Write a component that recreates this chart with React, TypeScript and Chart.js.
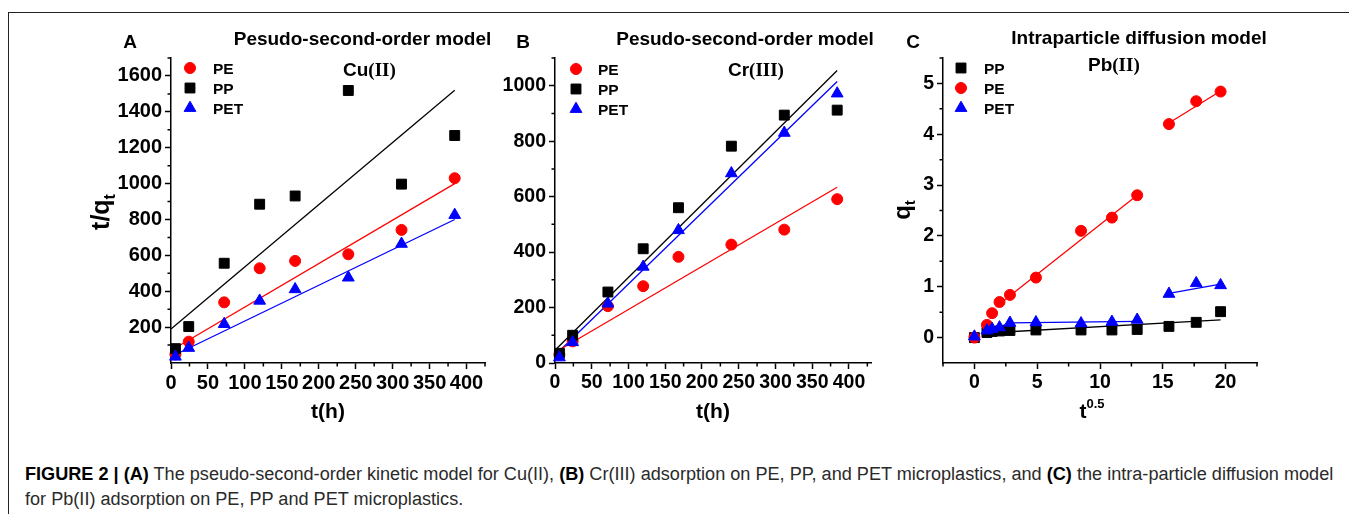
import React, { useEffect, useLayoutEffect, useRef } from 'react';
import { Chart, registerables } from 'chart.js';

Chart.register(...registerables);

// ---------------- Panel A : Cu(II), pseudo-second-order ----------------
const timeA = [6, 24, 72, 120, 168, 240, 312, 384];
const peA = [48, 119, 338, 528, 569, 606, 742, 1030];
const ppA = [80, 203, 556, 885, 931, 1519, 997, 1268];
const petA = [35, 84, 217, 347, 411, 476, 664, 825];
const fitTimeA = [0, 384];
const fitPeA = [70, 1000];
const fitPpA = [190, 1520];
const fitPetA = [35, 800];
const xTicksA = [0, 50, 100, 150, 200, 250, 300, 350, 400];
const xMinorA = [25, 75, 125, 175, 225, 275, 325, 375, 425];
const yTicksA = [200, 400, 600, 800, 1000, 1200, 1400, 1600];
const yMinorA = [100, 300, 500, 700, 900, 1100, 1300, 1500, 1700];

// ---------------- Panel B : Cr(III), pseudo-second-order ----------------
const timeB = [6, 24, 72, 120, 168, 240, 312, 384];
const peB = [30, 78, 205, 277, 383, 427, 481, 591];
const ppB = [35, 100, 256, 412, 560, 782, 894, 912];
const petB = [20, 75, 214, 347, 479, 684, 830, 972];
const fitTimeB = [0, 384];
const fitPeB = [38, 634];
const fitPpB = [46, 1055];
const fitPetB = [28, 1015];
const xTicksB = [0, 50, 100, 150, 200, 250, 300, 350, 400];
const xMinorB = [25, 75, 125, 175, 225, 275, 325, 375, 425];
const yTicksB = [0, 200, 400, 600, 800, 1000];
const yMinorB = [100, 300, 500, 700, 900, 1100];

// ---------------- Panel C : Pb(II), intraparticle diffusion ----------------
const sqrtTimeC = [0, 1, 1.41, 2, 2.83, 4.9, 8.49, 10.95, 12.96, 15.49, 17.66, 19.6];
const ppC = [0, 0.1, 0.12, 0.13, 0.14, 0.15, 0.15, 0.15, 0.16, 0.22, 0.3, 0.51];
const peC = [0, 0.25, 0.48, 0.7, 0.84, 1.18, 2.1, 2.36, 2.8, 4.2, 4.65, 4.84];
const petC = [0.02, 0.14, 0.17, 0.2, 0.29, 0.3, 0.28, 0.31, 0.35, 0.86, 1.07, 1.03];
const fitPpCx = [1.0, 19.6];
const fitPpCy = [0.09, 0.35];
const fitPe1Cx = [1.7, 12.96];
const fitPe1Cy = [0.6, 2.8];
const fitPe2Cx = [15.49, 19.6];
const fitPe2Cy = [4.22, 4.85];
const fitPet1Cx = [1.0, 2.83];
const fitPet1Cy = [0.14, 0.28];
const fitPet2Cx = [2.83, 12.96];
const fitPet2Cy = [0.29, 0.32];
const fitPet3Cx = [15.49, 19.6];
const fitPet3Cy = [0.87, 1.05];
const xTicksC = [0, 5, 10, 15, 20];
const xMinorC = [-2.5, 2.5, 7.5, 12.5, 17.5, 22.5];
const yTicksC = [0, 1, 2, 3, 4, 5];
const yMinorC = [0.5, 1.5, 2.5, 3.5, 4.5, 5.5];

// ---------------- Text ----------------
const seriesPE = 'PE';
const seriesPP = 'PP';
const seriesPET = 'PET';
const titlePSO = 'Pesudo-second-order model';
const titleIPD = 'Intraparticle diffusion model';

const RED = '#ff0000';
const BLACK = '#000000';
const BLUE = '#0000ff';
const SANS = '"Liberation Sans", Arial, Helvetica, sans-serif';
const SERIF = '"Liberation Serif", "Times New Roman", serif';

const R_CIRCLE = 5.5;
const R_RECT = 7;
const R_TRI = 6.8;

type Run = { t: string; f: string; dy?: number };
type Style = 'circle' | 'rect' | 'triangle';

function drawRuns(ctx: CanvasRenderingContext2D, runs: Run[], x: number, y: number, align: 'left' | 'center', rot = 0) {
  ctx.save();
  ctx.translate(x, y);
  if (rot) ctx.rotate(rot);
  ctx.textBaseline = 'alphabetic';
  ctx.textAlign = 'left';
  ctx.fillStyle = '#000';
  let w = 0;
  for (const r of runs) {
    ctx.font = r.f;
    w += ctx.measureText(r.t).width;
  }
  let cx = align === 'center' ? -w / 2 : 0;
  for (const r of runs) {
    ctx.font = r.f;
    ctx.fillText(r.t, cx, r.dy || 0);
    cx += ctx.measureText(r.t).width;
  }
  ctx.restore();
}

function drawMarker(ctx: CanvasRenderingContext2D, style: Style, x: number, y: number, color: string) {
  ctx.save();
  ctx.fillStyle = color;
  ctx.strokeStyle = color;
  ctx.lineWidth = 1;
  ctx.beginPath();
  if (style === 'circle') {
    ctx.arc(x, y, R_CIRCLE, 0, Math.PI * 2);
  } else if (style === 'rect') {
    const s = R_RECT * Math.SQRT1_2;
    ctx.rect(x - s, y - s, 2 * s, 2 * s);
  } else {
    const r = R_TRI;
    let a = 0;
    ctx.moveTo(x + Math.sin(a) * r, y - Math.cos(a) * r);
    a += (2 * Math.PI) / 3;
    ctx.lineTo(x + Math.sin(a) * r, y - Math.cos(a) * r);
    a += (2 * Math.PI) / 3;
    ctx.lineTo(x + Math.sin(a) * r, y - Math.cos(a) * r);
  }
  ctx.closePath();
  ctx.fill();
  ctx.stroke();
  ctx.restore();
}

type Series = { label: string; x: number[]; y: number[]; color: string; style: Style; order: number };
type Fit = { x: number[]; y: number[]; color: string };
type LegendItem = { label: string; color: string; style: Style };

type PanelCfg = {
  left: number; top: number; w: number; h: number;
  padTop: number; padRight: number; yAxisW: number; xAxisH: number;
  xMin: number; xMax: number; yMin: number; yMax: number;
  xTicks: number[]; yTicks: number[]; xMinor: number[]; yMinor: number[];
  tickSize: number;
  series: Series[]; fits: Fit[];
  letter: string; letterX: number; letterY: number;
  title: string; titleX: number; titleY: number;
  ion: [string, string]; ionX: number; ionY: number;
  legend: LegendItem[]; legMarkX: number; legMarkY: number; legTextX: number; legTextY: number;
  xTitle: Run[]; xTitleX: number; xTitleY: number;
  yTitle?: Run[]; yTitleX?: number; yTitleY?: number;
};

const pts = (xs: number[], ys: number[]) => xs.map((x, i) => ({ x, y: ys[i] }));

function buildChart(canvas: HTMLCanvasElement, c: PanelCfg) {
  const deco = {
    id: 'deco',
    afterDraw(chart: any) {
      const ctx: CanvasRenderingContext2D = chart.ctx;
      const xs = chart.scales.x;
      const ys = chart.scales.y;
      const ca = chart.chartArea;
      const L = c.left;
      const T = c.top;
      ctx.save();
      // minor ticks
      ctx.strokeStyle = '#000';
      ctx.lineWidth = 1.5;
      ctx.beginPath();
      for (const v of c.xMinor) {
        const p = xs.getPixelForValue(v);
        ctx.moveTo(p, ca.bottom);
        ctx.lineTo(p, ca.bottom + 3.5);
      }
      for (const v of c.yMinor) {
        const p = ys.getPixelForValue(v);
        ctx.moveTo(ca.left, p);
        ctx.lineTo(ca.left - 3.5, p);
      }
      ctx.stroke();
      // panel letter and title
      drawRuns(ctx, [{ t: c.letter, f: `bold 19px ${SANS}` }], c.letterX - L, c.letterY - T, 'center');
      drawRuns(ctx, [{ t: c.title, f: `bold 19px ${SANS}` }], c.titleX - L, c.titleY - T, 'center');
      // ion label
      drawRuns(ctx, [
        { t: c.ion[0], f: `bold 19px ${SANS}` },
        { t: c.ion[1], f: `bold 19px ${SERIF}` },
      ], c.ionX - L, c.ionY - T, 'left');
      // legend
      c.legend.forEach((it, i) => {
        drawMarker(ctx, it.style, c.legMarkX - L, c.legMarkY - T + i * 20, it.color);
        drawRuns(ctx, [{ t: it.label, f: `bold 15.5px ${SANS}` }], c.legTextX - L, c.legTextY - T + i * 20, 'left');
      });
      // axis titles
      drawRuns(ctx, c.xTitle, c.xTitleX - L, c.xTitleY - T, 'center');
      if (c.yTitle) drawRuns(ctx, c.yTitle, (c.yTitleX as number) - L, (c.yTitleY as number) - T, 'center', -Math.PI / 2);
      ctx.restore();
    },
  };

  const datasets: any[] = [
    ...c.series.map((s) => ({
      label: s.label,
      data: pts(s.x, s.y),
      pointStyle: s.style,
      pointRadius: s.style === 'circle' ? R_CIRCLE : s.style === 'rect' ? R_RECT : R_TRI,
      backgroundColor: s.color,
      borderColor: s.color,
      pointBorderWidth: 1,
      showLine: false,
      order: s.order,
      clip: false,
    })),
    ...c.fits.map((f) => ({
      label: '',
      data: pts(f.x, f.y),
      showLine: true,
      pointRadius: 0,
      borderColor: f.color,
      backgroundColor: f.color,
      borderWidth: 1.3,
      order: 10,
      clip: false,
    })),
  ];

  const tickFont = { family: SANS, size: c.tickSize, weight: 'bold' as const };

  return new Chart(canvas, {
    type: 'scatter',
    data: { datasets },
    options: {
      animation: false,
      responsive: false,
      events: [],
      layout: { padding: { top: c.padTop, right: c.padRight, left: 0, bottom: 0 } },
      plugins: { legend: { display: false }, tooltip: { enabled: false }, title: { display: false } },
      scales: {
        x: {
          type: 'linear',
          min: c.xMin,
          max: c.xMax,
          afterBuildTicks: (s: any) => { s.ticks = c.xTicks.map((v) => ({ value: v })); },
          afterFit: (s: any) => { s.height = c.xAxisH; },
          grid: { drawOnChartArea: false, drawTicks: true, tickLength: 6, tickWidth: 1.5, tickColor: '#000' },
          border: { display: true, color: '#000', width: 1.5 },
          ticks: { color: '#000', font: tickFont, padding: 2, maxRotation: 0, autoSkip: false, callback: (v: any) => String(v) },
        },
        y: {
          type: 'linear',
          min: c.yMin,
          max: c.yMax,
          afterBuildTicks: (s: any) => { s.ticks = c.yTicks.map((v) => ({ value: v })); },
          afterFit: (s: any) => { s.width = c.yAxisW; },
          grid: { drawOnChartArea: false, drawTicks: true, tickLength: 6, tickWidth: 1.5, tickColor: '#000' },
          border: { display: true, color: '#000', width: 1.5 },
          ticks: { color: '#000', font: tickFont, padding: 3, autoSkip: false, callback: (v: any) => String(v) },
        },
      },
    } as any,
    plugins: [deco],
  });
}

const legendPSO: LegendItem[] = [
  { label: seriesPE, color: RED, style: 'circle' },
  { label: seriesPP, color: BLACK, style: 'rect' },
  { label: seriesPET, color: BLUE, style: 'triangle' },
];
const legendIPD: LegendItem[] = [
  { label: seriesPP, color: BLACK, style: 'rect' },
  { label: seriesPE, color: RED, style: 'circle' },
  { label: seriesPET, color: BLUE, style: 'triangle' },
];

const xTitleTH: Run[] = [{ t: 't(h)', f: `bold 21px ${SANS}` }];

const panelA: PanelCfg = {
  left: 60, top: 14, w: 440, h: 420,
  padTop: 44, padRight: 15, yAxisW: 111, xAxisH: 71,
  xMin: 0, xMax: 425, yMin: 0, yMax: 1700,
  xTicks: xTicksA, yTicks: yTicksA, xMinor: xMinorA, yMinor: yMinorA,
  tickSize: 20,
  series: [
    { label: seriesPE, x: timeA, y: peA, color: RED, style: 'circle', order: 3 },
    { label: seriesPP, x: timeA, y: ppA, color: BLACK, style: 'rect', order: 2 },
    { label: seriesPET, x: timeA, y: petA, color: BLUE, style: 'triangle', order: 1 },
  ],
  fits: [
    { x: fitTimeA, y: fitPpA, color: BLACK },
    { x: fitTimeA, y: fitPeA, color: RED },
    { x: fitTimeA, y: fitPetA, color: BLUE },
  ],
  letter: 'A', letterX: 130, letterY: 48,
  title: titlePSO, titleX: 362.5, titleY: 45,
  ion: ['Cu', '(II)'], ionX: 343, ionY: 76,
  legend: legendPSO, legMarkX: 190, legMarkY: 68, legTextX: 213, legTextY: 73.5,
  xTitle: xTitleTH, xTitleX: 328, xTitleY: 418,
  yTitle: [{ t: 't/q', f: `bold 25px ${SANS}` }, { t: 't', f: `bold 16px ${SANS}`, dy: 6 }],
  yTitleX: 109, yTitleY: 212,
};

const panelB: PanelCfg = {
  left: 495, top: 14, w: 390, h: 420,
  padTop: 44, padRight: 14, yAxisW: 60, xAxisH: 71,
  xMin: 0, xMax: 430, yMin: 0, yMax: 1100,
  xTicks: xTicksB, yTicks: yTicksB, xMinor: xMinorB, yMinor: yMinorB,
  tickSize: 19.5,
  series: [
    { label: seriesPE, x: timeB, y: peB, color: RED, style: 'circle', order: 3 },
    { label: seriesPP, x: timeB, y: ppB, color: BLACK, style: 'rect', order: 2 },
    { label: seriesPET, x: timeB, y: petB, color: BLUE, style: 'triangle', order: 1 },
  ],
  fits: [
    { x: fitTimeB, y: fitPpB, color: BLACK },
    { x: fitTimeB, y: fitPeB, color: RED },
    { x: fitTimeB, y: fitPetB, color: BLUE },
  ],
  letter: 'B', letterX: 523, letterY: 47.5,
  title: titlePSO, titleX: 745, titleY: 45,
  ion: ['Cr', '(III)'], ionX: 728, ionY: 75.5,
  legend: legendPSO, legMarkX: 576, legMarkY: 69, legTextX: 598, legTextY: 74.5,
  xTitle: xTitleTH, xTitleX: 713, xTitleY: 418,
};

const panelC: PanelCfg = {
  left: 880, top: 14, w: 400, h: 420,
  padTop: 44, padRight: 23, yAxisW: 63, xAxisH: 71,
  xMin: -2.5, xMax: 22.5, yMin: -0.5, yMax: 5.5,
  xTicks: xTicksC, yTicks: yTicksC, xMinor: xMinorC, yMinor: yMinorC,
  tickSize: 19.5,
  series: [
    { label: seriesPP, x: sqrtTimeC, y: ppC, color: BLACK, style: 'rect', order: 3 },
    { label: seriesPE, x: sqrtTimeC, y: peC, color: RED, style: 'circle', order: 2 },
    { label: seriesPET, x: sqrtTimeC, y: petC, color: BLUE, style: 'triangle', order: 1 },
  ],
  fits: [
    { x: fitPpCx, y: fitPpCy, color: BLACK },
    { x: fitPe1Cx, y: fitPe1Cy, color: RED },
    { x: fitPe2Cx, y: fitPe2Cy, color: RED },
    { x: fitPet1Cx, y: fitPet1Cy, color: BLUE },
    { x: fitPet2Cx, y: fitPet2Cy, color: BLUE },
    { x: fitPet3Cx, y: fitPet3Cy, color: BLUE },
  ],
  letter: 'C', letterX: 913, letterY: 47.5,
  title: titleIPD, titleX: 1139, titleY: 43.5,
  ion: ['Pb', '(II)'], ionX: 1088, ionY: 70.5,
  legend: legendIPD, legMarkX: 961, legMarkY: 68, legTextX: 984, legTextY: 73.5,
  xTitle: [{ t: 't', f: `bold 21px ${SANS}` }, { t: '0.5', f: `bold 13px ${SANS}`, dy: -10 }],
  xTitleX: 1092, xTitleY: 418,
  yTitle: [{ t: 'q', f: `bold 24px ${SANS}` }, { t: 't', f: `bold 15px ${SANS}`, dy: 5 }],
  yTitleX: 910, yTitleY: 210,
};

function Panel({ cfg }: { cfg: PanelCfg }) {
  const ref = useRef<HTMLCanvasElement>(null);
  useEffect(() => {
    const chart = buildChart(ref.current as HTMLCanvasElement, cfg);
    return () => chart.destroy();
  }, [cfg]);
  return (
    <canvas
      ref={ref}
      width={cfg.w}
      height={cfg.h}
      style={{ position: 'absolute', left: cfg.left, top: cfg.top, width: cfg.w, height: cfg.h }}
    />
  );
}

const CAPTION_W = 1308;

function Caption() {
  const l1 = useRef<HTMLDivElement>(null);
  const l2 = useRef<HTMLDivElement>(null);
  useLayoutEffect(() => {
    const a = l1.current as HTMLDivElement;
    const b = l2.current as HTMLDivElement;
    const k = CAPTION_W / a.offsetWidth;
    a.style.transform = `scaleX(${k})`;
    b.style.transform = `scaleX(${k})`;
  }, []);
  const base: React.CSSProperties = {
    position: 'absolute',
    left: 25,
    whiteSpace: 'nowrap',
    fontFamily: SANS,
    fontSize: 18,
    lineHeight: '20px',
    color: '#2a2a2a',
    transformOrigin: 'left center',
  };
  return (
    <>
      <div ref={l1} style={{ ...base, top: 464 }}>
        <b style={{ color: '#000' }}>FIGURE 2 | (A)</b> The pseudo-second-order kinetic model for Cu(II),{' '}
        <b style={{ color: '#000' }}>(B)</b> Cr(III) adsorption on PE, PP, and PET microplastics, and{' '}
        <b style={{ color: '#000' }}>(C)</b> the intra-particle diffusion model
      </div>
      <div ref={l2} style={{ ...base, top: 489 }}>
        for Pb(II) adsorption on PE, PP and PET microplastics.
      </div>
    </>
  );
}

export default function App() {
  return (
    <div
      style={{
        position: 'absolute',
        left: 0,
        top: 0,
        width: 1349,
        height: 514,
        overflow: 'hidden',
        background: '#fff',
      }}
    >
      <div
        style={{
          position: 'absolute',
          left: 8,
          top: 12,
          width: 1400,
          height: 600,
          borderTop: '1px solid #222',
          borderLeft: '1px solid #222',
        }}
      />
      <Panel cfg={panelA} />
      <Panel cfg={panelB} />
      <Panel cfg={panelC} />
      <Caption />
    </div>
  );
}
